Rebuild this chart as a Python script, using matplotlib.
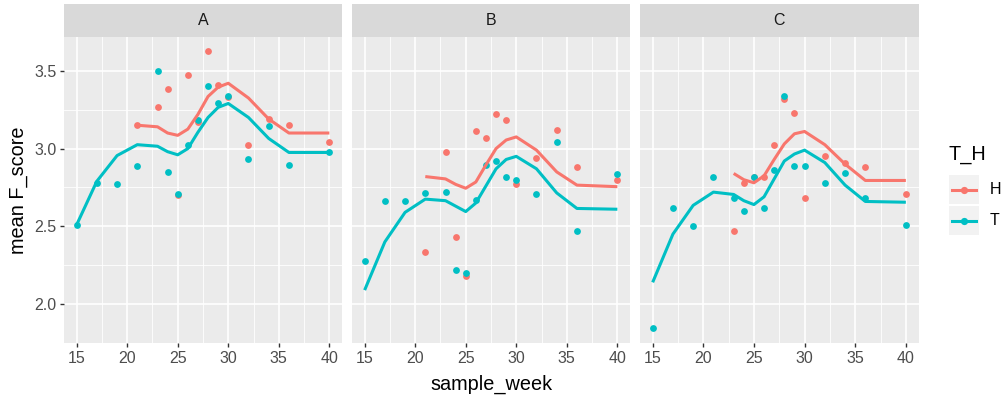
import matplotlib
matplotlib.use('Agg')
import matplotlib.pyplot as plt
from matplotlib.patches import Rectangle
from matplotlib.lines import Line2D

plt.rcParams['font.family'] = ['Liberation Sans', 'DejaVu Sans']

# ── data: per-panel weekly means (points) and smoothed trend (lines) ─────────
panels = ['A', 'B', 'C']
groups = ['H', 'T']
colors = {'H': '#F8766D', 'T': '#00BFC4'}

weeks_T = [15, 17, 19, 21, 23, 24, 25, 26, 27, 28, 29, 30, 32, 34, 36, 40]
weeks_H_AB = [21, 23, 24, 25, 26, 27, 28, 29, 30, 32, 34, 36, 40]
weeks_H_C = [23, 24, 25, 26, 27, 28, 29, 30, 32, 34, 36, 40]

# points
A_H = [3.15, 3.27, 3.38, 2.70, 3.47, 3.17, 3.63, 3.41, 3.33, 3.02, 3.19, 3.15, 3.045]
A_T = [2.51, 2.78, 2.775, 2.89, 3.50, 2.85, 2.705, 3.02, 3.185, 3.40, 3.29, 3.335,
       2.935, 3.145, 2.895, 2.98]
B_H = [2.335, 2.975, 2.43, 2.18, 3.115, 3.065, 3.225, 3.185, 2.775, 2.94, 3.12, 2.88, 2.795]
B_T = [2.28, 2.66, 2.665, 2.715, 2.72, 2.22, 2.20, 2.67, 2.895, 2.92, 2.82, 2.795,
       2.71, 3.04, 2.47, 2.835]
C_H = [2.47, 2.78, 2.82, 2.82, 3.02, 3.32, 3.23, 2.68, 2.955, 2.91, 2.88, 2.71]
C_T = [1.845, 2.62, 2.50, 2.815, 2.68, 2.60, 2.82, 2.62, 2.86, 3.34, 2.89, 2.89,
       2.78, 2.845, 2.685, 2.51]

# smoothed lines
A_H_line = [3.15, 3.14, 3.10, 3.085, 3.125, 3.22, 3.335, 3.395, 3.42, 3.325, 3.19, 3.10, 3.10]
A_T_line = [2.51, 2.79, 2.955, 3.025, 3.015, 2.98, 2.96, 3.00, 3.105, 3.20, 3.265,
            3.29, 3.20, 3.065, 2.975, 2.975]
B_H_line = [2.82, 2.805, 2.77, 2.745, 2.785, 2.895, 3.00, 3.055, 3.075, 2.99, 2.85, 2.765, 2.755]
B_T_line = [2.09, 2.40, 2.59, 2.675, 2.665, 2.63, 2.595, 2.65, 2.76, 2.87, 2.93,
            2.95, 2.87, 2.715, 2.615, 2.61]
C_H_line = [2.84, 2.80, 2.78, 2.825, 2.93, 3.03, 3.095, 3.11, 3.025, 2.90, 2.795, 2.795]
C_T_line = [2.14, 2.45, 2.635, 2.72, 2.705, 2.665, 2.64, 2.69, 2.805, 2.92, 2.965,
            2.99, 2.91, 2.765, 2.66, 2.655]

data = {
    'A': {'H': (weeks_H_AB, A_H, A_H_line), 'T': (weeks_T, A_T, A_T_line)},
    'B': {'H': (weeks_H_AB, B_H, B_H_line), 'T': (weeks_T, B_T, B_T_line)},
    'C': {'H': (weeks_H_C, C_H, C_H_line), 'T': (weeks_T, C_T, C_T_line)},
}

x_ticks = [15, 20, 25, 30, 35, 40]
y_ticks = [2.0, 2.5, 3.0, 3.5]

# shared y range with ggplot-style 5% expansion
all_y = A_H + A_T + B_H + B_T + C_H + C_T
y_lo, y_hi = min(all_y), max(all_y)
pad = 0.05 * (y_hi - y_lo)
ylim = (y_lo - pad, y_hi + pad)
xlim = (15 - 1.25, 40 + 1.25)

# ── layout (pixels) ─────────────────────────────────────────────────────────
W, H = 1005, 401
fig = plt.figure(figsize=(W / 100, H / 100), dpi=100)
fig.patch.set_facecolor('white')

panel_x = [(64, 342), (352, 630), (640, 918.5)]
top, bottom, strip_top = 36.7, 343, 4

for i, (name, (x0, x1)) in enumerate(zip(panels, panel_x)):
    ax = fig.add_axes([x0 / W, 1 - bottom / H, (x1 - x0) / W, (bottom - top) / H])
    ax.set_facecolor('#EBEBEB')
    for s in ax.spines.values():
        s.set_visible(False)
    ax.set_xlim(*xlim)
    ax.set_ylim(*ylim)
    ax.set_xticks(x_ticks)
    ax.set_yticks(y_ticks)
    ax.set_xticks([17.5, 22.5, 27.5, 32.5, 37.5], minor=True)
    ax.set_yticks([1.75, 2.25, 2.75, 3.25], minor=True)
    ax.grid(which='major', color='white', linewidth=1.2)
    ax.grid(which='minor', color='white', linewidth=0.6)
    ax.set_axisbelow(True)
    ax.tick_params(which='major', length=3, width=1.0, color='#333333',
                   labelsize=11.5, labelcolor='#4D4D4D', pad=2.5)
    ax.tick_params(which='minor', length=0)
    if i > 0:
        ax.tick_params(axis='y', length=0, labelleft=False)
    ax.set_yticklabels([f'{v:.1f}' for v in y_ticks])

    for g in groups:
        wk, pts, _ = data[name][g]
        ax.scatter(wk, pts, s=24, color=colors[g], linewidths=0, zorder=3)
    for g in groups:
        wk, _, line = data[name][g]
        ax.plot(wk, line, color=colors[g], linewidth=2.2, zorder=4,
                solid_capstyle='butt')

    # facet strip
    sax = fig.add_axes([x0 / W, 1 - top / H, (x1 - x0) / W, (top - strip_top) / H])
    sax.set_facecolor('#D9D9D9')
    sax.set_xticks([])
    sax.set_yticks([])
    for s in sax.spines.values():
        s.set_visible(False)
    sax.text(0.5, 0.5, name, ha='center', va='center', fontsize=11.5,
             color='#1A1A1A', transform=sax.transAxes)

# axis titles
fig.text(18 / W, 1 - 190 / H, 'mean F_score', rotation=90, ha='center',
         va='center', fontsize=14.3, color='black')
fig.text(491 / W, 1 - 384 / H, 'sample_week', ha='center', va='center',
         fontsize=14.3, color='black')

# legend drawn by hand, ggplot style
fig.text(948 / W, 1 - 155 / H, 'T_H', ha='left', va='center', fontsize=14.3)
for k, g in enumerate(groups):
    yc = 189.5 + k * 31
    fig.add_artist(Rectangle((949 / W, 1 - (yc + 14.5) / H), 30 / W, 29 / H,
                             transform=fig.transFigure, facecolor='#F2F2F2',
                             edgecolor='none'))
    fig.add_artist(Line2D([952 / W, 976 / W], [1 - yc / H, 1 - yc / H],
                          transform=fig.transFigure, color=colors[g],
                          linewidth=2.2))
    fig.add_artist(Line2D([964 / W], [1 - yc / H], transform=fig.transFigure,
                          marker='o', markersize=5.2, color=colors[g],
                          markeredgewidth=0))
    fig.text(990 / W, 1 - yc / H, g, ha='left', va='center', fontsize=11.5)

fig.savefig('out.png', dpi=100, facecolor='white')
